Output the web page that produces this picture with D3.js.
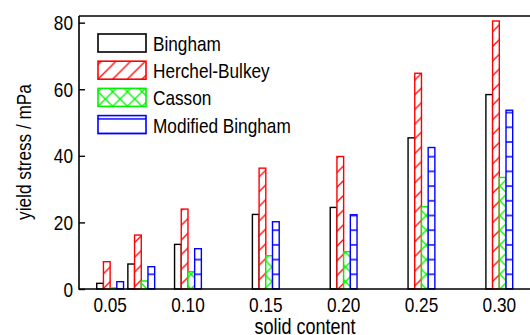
<!DOCTYPE html>
<html>
<head>
<meta charset="utf-8">
<script src="https://cdn.jsdelivr.net/npm/d3@7"></script>
<style>
  html, body { margin: 0; padding: 0; background: #fff; }
  svg { display: block; }
  text { font-family: "Liberation Sans", Arial, sans-serif; fill: #000; font-size: 21px; }
</style>
</head>
<body>
<svg id="chart" width="530" height="335"></svg>
<script>
// Yield stress (mPa) of each rheological model at each solid content
const solidContent = [0.05, 0.07, 0.10, 0.15, 0.20, 0.25, 0.30];
const bingham      = [1.7, 7.5, 13.4, 22.4, 24.5, 45.4, 58.4];
const herchelBulkey = [8.2, 16.2, 24.0, 36.3, 39.8, 64.8, 80.5];
const casson       = [0.3, 2.4, 5.2, 10.0, 11.2, 24.7, 33.5];
const modifiedBingham = [2.2, 6.7, 12.1, 20.2, 22.3, 42.5, 53.7];

const seriesNames = ["Bingham", "Herchel-Bulkey", "Casson", "Modified Bingham"];
const xTickValues = [0.05, 0.10, 0.15, 0.20, 0.25, 0.30];
const yTickValues = [0, 20, 40, 60, 80];

const series = [
  { name: seriesNames[0], values: bingham,         color: "#000000", fill: "plain" },
  { name: seriesNames[1], values: herchelBulkey,   color: "#ff0000", fill: "hatch" },
  { name: seriesNames[2], values: casson,          color: "#00f000", fill: "cross" },
  { name: seriesNames[3], values: modifiedBingham, color: "#0000ff", fill: "hlines" }
];

const svg = d3.select("#chart");
const plotLeft = 79, plotTop = 16, plotBottom = 289, plotRight = 546;

const x = d3.scaleLinear().domain([0.03, 0.33]).range([plotLeft, plotRight]);
const y = d3.scaleLinear().domain([0, 82]).range([plotBottom, plotTop]);
const barW = 6.7;

// Condensed text: regular sans squeezed horizontally
const narrow = 0.82;
function label(parent, tx, ty, str, anchor, rot, size) {
  const t = parent.append("text")
    .attr("transform", `translate(${tx},${ty})${rot ? ` rotate(${rot})` : ""} scale(${narrow},1)`)
    .attr("text-anchor", anchor || "start")
    .text(str);
  if (size) t.style("font-size", size + "px");
  return t;
}

svg.append("rect").attr("width", 530).attr("height", 335).attr("fill", "#fff");

const defs = svg.append("defs");
const P = 14.7;
function makePattern(id, kind, color, ox, oy) {
  const p = defs.append("pattern")
    .attr("id", id)
    .attr("patternUnits", "userSpaceOnUse")
    .attr("x", ox).attr("y", oy)
    .attr("width", P).attr("height", P);
  p.append("rect").attr("width", P).attr("height", P).attr("fill", "#fff");
  let d = "";
  if (kind === "hatch") {
    d = `M0,${P} L${P},0 M${-P/4},${P/4} L${P/4},${-P/4} M${3*P/4},${5*P/4} L${5*P/4},${3*P/4}`;
  } else if (kind === "cross") {
    d = `M0,0 L${P},${P} M${P},0 L0,${P}`;
  } else if (kind === "hlines") {
    d = `M-1,0 H${P+1} M-1,${P} H${P+1}`;
  }
  if (d) p.append("path").attr("d", d).attr("stroke", color)
    .attr("stroke-width", 1.3).attr("fill", "none");
}
series.forEach((s, i) => {
  makePattern("pat" + i, s.fill, s.color, 0, y(0));
});

// Bars: four per solid content, centred on the x position
const groups = svg.append("g");
series.forEach((s, si) => {
  groups.append("g").selectAll("rect")
    .data(s.values.map((v, k) => ({ v, c: solidContent[k] })))
    .join("rect")
    .attr("x", d => x(d.c) + (si - 2) * barW)
    .attr("y", d => y(d.v))
    .attr("width", barW)
    .attr("height", d => y(0) - y(d.v))
    .attr("fill", s.fill === "plain" ? "#fff" : `url(#pat${si})`)
    .attr("stroke", s.color)
    .attr("stroke-width", 1.4);
});

// Frame: left axis, bottom axis, top border
const frame = svg.append("g").attr("stroke", "#000").attr("stroke-width", 1.6).attr("fill", "none");
frame.append("path").attr("d", `M${plotLeft},${plotTop} V${plotBottom} H530`);
frame.append("path").attr("d", `M${plotLeft},${plotTop} H530`);

// Y axis ticks (inward) and labels
const yAxis = d3.axisRight(y).tickValues(yTickValues).tickSize(6).tickFormat("");
svg.append("g").attr("transform", `translate(${plotLeft},0)`).call(yAxis)
  .call(g => g.select(".domain").remove())
  .call(g => g.selectAll("line").attr("stroke", "#000").attr("stroke-width", 1.4));
const yLabels = svg.append("g");
yTickValues.forEach(v => label(yLabels, 73, y(v) + 7.5, d3.format("d")(v), "end"));

// X tick labels
const xLabels = svg.append("g");
xTickValues.forEach(v => label(xLabels, x(v), 312, d3.format(".2f")(v), "middle"));

// Axis titles
label(svg, 305, 334, "solid content", "middle", 0, 22);
label(svg, 31, 152, "yield stress / mPa", "middle", -90);

// Legend
const legend = svg.append("g");
series.forEach((s, i) => {
  const sy = 34 + i * 27.2;
  makePattern("leg" + i, s.fill, s.color, 98, sy + 18);
  legend.append("rect")
    .attr("x", 98).attr("y", sy)
    .attr("width", 48).attr("height", 18)
    .attr("fill", s.fill === "plain" ? "#fff" : `url(#leg${i})`)
    .attr("stroke", s.color)
    .attr("stroke-width", 1.6);
  label(legend, 153, sy + 17, s.name, "start");
});
</script>
</body>
</html>
